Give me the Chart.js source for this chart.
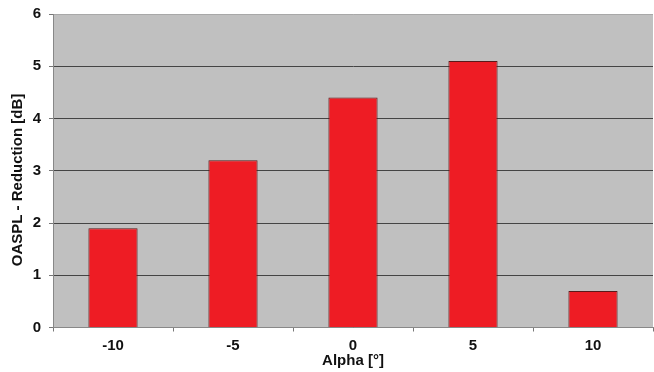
<!DOCTYPE html>
<html><head><meta charset="utf-8">
<script src="https://cdn.jsdelivr.net/npm/chart.js@4"></script>
<style>html,body{margin:0;padding:0;background:#fff}</style>
</head><body><canvas id="c" width="654" height="372"></canvas>
<script>
const categories = ["-10", "-5", "0", "5", "10"];
const reduction = [1.9, 3.2, 4.4, 5.1, 0.7];
const yTicks = [0, 1, 2, 3, 4, 5, 6];
const xTitle = 'Alpha [°]';
const yTitle = 'OASPL - Reduction [dB]';

const bgPlugin = {
  id: 'bg',
  beforeDraw(chart) {
    const {ctx, chartArea: a} = chart;
    ctx.save();
    ctx.fillStyle = '#c0c0c0';
    ctx.fillRect(a.left, a.top, a.right - a.left, a.bottom - a.top);
    ctx.restore();
  },
  afterDraw(chart) {
    const ctx = chart.ctx;
    ctx.save();
    ctx.translate(18, 180);
    ctx.rotate(-Math.PI / 2);
    ctx.font = 'bold 15px "Liberation Sans"';
    ctx.fillStyle = '#111';
    ctx.textAlign = 'center';
    ctx.textBaseline = 'middle';
    ctx.fillText(yTitle, 0, 0);
    ctx.restore();
  }
};

new Chart(document.getElementById('c'), {
  type: 'bar',
  data: {
    labels: categories,
    datasets: [{
      data: reduction,
      backgroundColor: '#ee1c24',
      borderColor: '#5a1a1a',
      borderWidth: 1,
      categoryPercentage: 0.82,
      barPercentage: 0.5
    }]
  },
  options: {
    responsive: false,
    animation: false,
    devicePixelRatio: 1,
    layout: { padding: { top: 14, right: 1, left: 0, bottom: 0 } },
    plugins: { legend: { display: false }, tooltip: { enabled: false } },
    scales: {
      x: {
        afterFit(s) { s.height = 44.5; s.paddingLeft = 0; s.paddingRight = 0; },
        grid: { drawOnChartArea: false, drawTicks: true, tickLength: 4, color: '#777', offset: true },
        border: { color: '#888', width: 1 },
        ticks: { autoSkip: false, maxRotation: 0, color: '#111', font: { family: 'Liberation Sans', size: 15, weight: 'bold' }, padding: 5 },
        title: { display: true, text: xTitle, color: '#111', font: { family: 'Liberation Sans', size: 15, weight: 'bold' }, padding: { top: 0, bottom: 2 } }
      },
      y: {
        min: 0, max: 6,
        afterFit(s) { s.width = 53; s.paddingTop = 0; s.paddingBottom = 0; },
        afterBuildTicks(s) { s.ticks = yTicks.map(v => ({ value: v })); },
        grid: {
          color: (c) => (c.tick && c.tick.value === 6) ? '#a8a8a8' : '#444',
          tickColor: '#777', tickLength: 4, lineWidth: 1
        },
        border: { color: '#888', width: 1 },
        ticks: { autoSkip: false, color: '#111', font: { family: 'Liberation Sans', size: 15, weight: 'bold' }, padding: 8 }
      }
    }
  },
  plugins: [bgPlugin]
});
</script>
</body></html>
